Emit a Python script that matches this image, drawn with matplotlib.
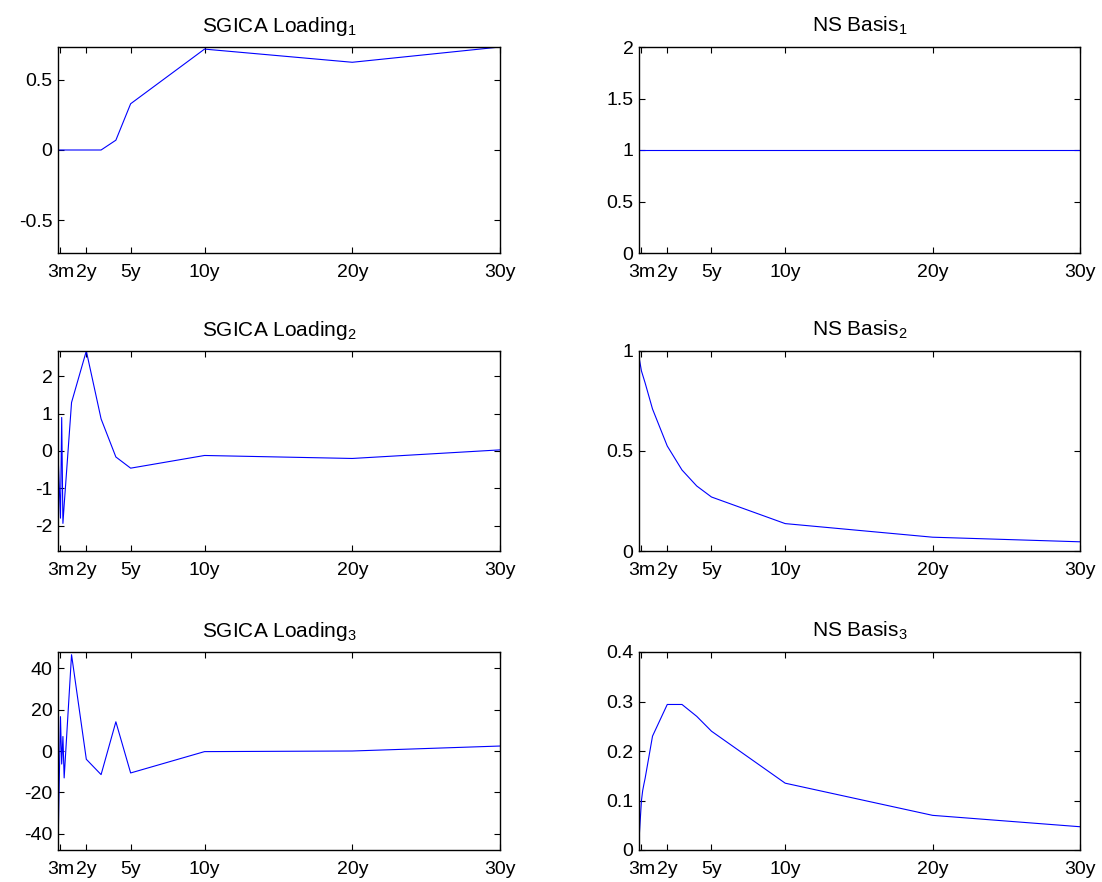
import numpy as np
import matplotlib
matplotlib.use("Agg")
import matplotlib.pyplot as plt
from matplotlib.ticker import FormatStrFormatter

plt.rcParams['font.family'] = ['Liberation Sans', 'DejaVu Sans']
plt.rcParams['mathtext.default'] = 'regular'

# maturities in months
maturities = [1, 3, 4, 5, 6, 12, 24, 36, 48, 60, 120, 240, 360]
tick_pos = [3, 24, 60, 120, 240, 360]
tick_lab = ["3m", "2y", "5y", "10y", "20y", "30y"]

sgica_1 = [0, 0, 0, 0, 0, 0, 0, 0, 0.07, 0.33, 0.72, 0.626, 0.735]
sgica_2 = [-0.05, -1.8, 0.9, -1.94, -1.45, 1.3, 2.68, 0.86, -0.16, -0.46, -0.12, -0.2, 0.03]
sgica_3 = [-47.8, 16.6, -6.3, 7.0, -13.0, 46.5, -4.0, -11.4, 14.1, -10.6, -0.3, 0.0, 2.4]

ns_1 = [1] * len(maturities)
ns_2 = [0.97, 0.9, 0.88, 0.86, 0.84, 0.71, 0.525, 0.405, 0.325, 0.27, 0.137, 0.069, 0.046]
ns_3 = [0.02, 0.1, 0.12, 0.133, 0.145, 0.23, 0.294, 0.294, 0.27, 0.24, 0.135, 0.07, 0.047]

left_series = [sgica_1, sgica_2, sgica_3]
right_series = [ns_1, ns_2, ns_3]
left_yticks = [[-0.5, 0, 0.5], [-2, -1, 0, 1, 2], [-40, -20, 0, 20, 40]]
right_ylim = [(0, 2), (0, 1), (0, 0.4)]
right_yticks = [[0, 0.5, 1, 1.5, 2], [0, 0.5, 1], [0, 0.1, 0.2, 0.3, 0.4]]

W, H = 1102, 882
fig = plt.figure(figsize=(W / 100, H / 100), dpi=100)

rows = [(47, 253), (351, 551), (652, 850)]
cols = [(58, 500), (639, 1080)]


def style(ax):
    ax.set_xlim(maturities[0], maturities[-1])
    ax.set_xticks(tick_pos)
    ax.set_xticklabels(tick_lab)
    ax.tick_params(direction="in", top=True, right=True, length=4, width=0.8,
                   labelsize=14, pad=4)
    ax.tick_params(axis="x", pad=8)
    ax.yaxis.set_major_formatter(FormatStrFormatter("%g"))
    for s in ax.spines.values():
        s.set_linewidth(1.0)


for i, (top, bot) in enumerate(rows):
    for j, (l, r) in enumerate(cols):
        ax = fig.add_axes([l / W, 1 - bot / H, (r - l) / W, (bot - top) / H])
        if j == 0:
            y = left_series[i]
            ax.plot(maturities, y, color=(0, 0, 1), lw=0.8)
            m = max(abs(v) for v in y)
            ax.set_ylim(-m, m)
            ax.set_yticks(left_yticks[i])
            ax.set_title("SGICA Loading$_{%d}$" % (i + 1), fontsize=15, pad=11)
        else:
            y = right_series[i]
            ax.plot(maturities, y, color=(0, 0, 1), lw=0.8)
            ax.set_ylim(*right_ylim[i])
            ax.set_yticks(right_yticks[i])
            ax.set_title("NS Basis$_{%d}$" % (i + 1), fontsize=15, pad=11)
        style(ax)

fig.savefig("out.png", dpi=100)
